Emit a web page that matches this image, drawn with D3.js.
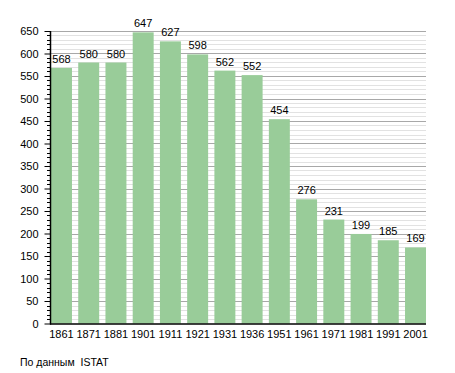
<!DOCTYPE html>
<html><head><meta charset="utf-8">
<script src="https://cdn.jsdelivr.net/npm/d3@7"></script>
<style>body{margin:0;background:#fff}svg{display:block;font-family:"Liberation Sans",Arial,sans-serif}</style>
</head><body><svg id="c" width="455" height="373"></svg>
<script>
const years = ["1861","1871","1881","1901","1911","1921","1931","1936","1951","1961","1971","1981","1991","2001"];
const population = [568,580,580,647,627,598,562,552,454,276,231,199,185,169];
const yTicks = [0,50,100,150,200,250,300,350,400,450,500,550,600,650];
const footnote = "По данным  ISTAT";

const svg = d3.select("#c");
const x = d3.scaleBand().domain(years).range([51,426]).paddingInner(0.23).paddingOuter(0);
const y = d3.scaleLinear().domain([0,650]).range([323.5,31]);

const minor = d3.range(0,651,10);
svg.append("g").selectAll("line").data(minor.filter(v=>v%50!==0)).join("line")
  .attr("x1",50).attr("x2",426).attr("y1",d=>Math.round(y(d))+0.5).attr("y2",d=>Math.round(y(d))+0.5)
  .attr("stroke","#e2e2e2").attr("stroke-width",1);
svg.append("g").selectAll("line").data(yTicks.filter(v=>v>0)).join("line")
  .attr("x1",50).attr("x2",426).attr("y1",d=>Math.round(y(d))+0.5).attr("y2",d=>Math.round(y(d))+0.5)
  .attr("stroke","#a8a8a8").attr("stroke-width",1);

svg.append("g").selectAll("rect").data(population).join("rect")
  .attr("x",(d,i)=>x(years[i])).attr("width",x.bandwidth())
  .attr("y",d=>y(d)).attr("height",d=>y(0)-y(d)).attr("fill","#99cc99");

svg.append("g").selectAll("text").data(population).join("text")
  .attr("x",(d,i)=>x(years[i])+x.bandwidth()/2).attr("y",d=>y(d)-5)
  .attr("text-anchor","middle").attr("font-size",11).attr("fill","#000").text(d=>d);

// y axis minor ticks
svg.append("g").selectAll("line").data(minor.filter(v=>v%50!==0)).join("line")
  .attr("x1",47).attr("x2",50).attr("y1",d=>Math.round(y(d))+0.5).attr("y2",d=>Math.round(y(d))+0.5)
  .attr("stroke","#000");
const yAxis = d3.axisLeft(y).tickValues(yTicks).tickSize(6).tickPadding(6).tickFormat(d3.format("d"));
const ga = svg.append("g").attr("transform","translate(50.5,0)").call(yAxis);
ga.select(".domain").remove();
ga.selectAll("text").attr("font-size",11).attr("font-family","Liberation Sans, Arial, sans-serif").attr("fill","#000");
ga.selectAll("line").attr("stroke","#000");
svg.append("line").attr("x1",50.5).attr("x2",50.5).attr("y1",31).attr("y2",324.5).attr("stroke","#000").attr("stroke-width",1.5);
svg.append("line").attr("x1",50).attr("x2",426).attr("y1",324).attr("y2",324).attr("stroke","#000").attr("stroke-width",1.5);

const xAxis = d3.axisBottom(x).tickSize(0).tickPadding(6);
const gx = svg.append("g").attr("transform","translate(0,324)").call(xAxis);
gx.select(".domain").remove();
gx.selectAll("text").attr("font-size",11).attr("font-family","Liberation Sans, Arial, sans-serif").attr("fill","#000");

svg.append("text").attr("x",20).attr("y",366).attr("font-size",10.5).attr("fill","#000").attr("xml:space","preserve").style("white-space","pre").text(footnote);
</script></body></html>
